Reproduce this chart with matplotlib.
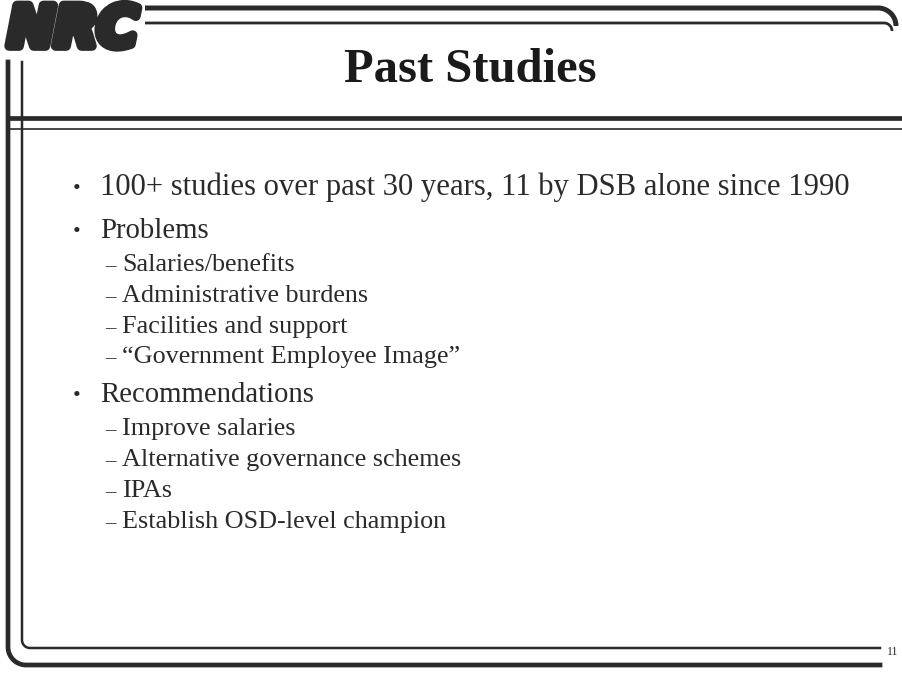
import numpy as np
import matplotlib
matplotlib.use("Agg")
import matplotlib.pyplot as plt
import matplotlib.patheffects as pe

# ---- content ----
title = "Past Studies"
level1_items = [
    "100+ studies over past 30 years, 11 by DSB alone since 1990",
    "Problems",
    "Recommendations",
]
level1_sizes = [22.1, 20.7, 20.7]
problems = [
    "Salaries/benefits",
    "Administrative burdens",
    "Facilities and support",
    "\u201cGovernment Employee Image\u201d",
]
recommendations = [
    "Improve salaries",
    "Alternative governance schemes",
    "IPAs",
    "Establish OSD-level champion",
]
page_number = "11"
logo_text = "NRC"

W, H = 902, 673
fig = plt.figure(figsize=(W / 100, H / 100), dpi=100)
ax = fig.add_axes([0, 0, 1, 1])
ax.set_xlim(0, W)
ax.set_ylim(H, 0)
ax.axis("off")

ink = "#2a2a2a"
serif = ["Liberation Serif", "DejaVu Serif"]


def arc(cx, cy, r, a0, a1, n=30):
    t = np.radians(np.linspace(a0, a1, n))
    return cx + r * np.cos(t), cy + r * np.sin(t)


# ---- frame ----
x, y = arc(878, 26, 18, -90, 0)
ax.plot(np.r_[145, x], np.r_[8, y], color=ink, lw=3.6, solid_capstyle="butt")
x, y = arc(884, 31, 8, -90, 0)
ax.plot(np.r_[145, x], np.r_[23, y], color=ink, lw=2.0, solid_capstyle="butt")
ax.plot([8, 902], [118, 118], color=ink, lw=3.4)
ax.plot([8, 902], [129, 129], color=ink, lw=1.2)
x, y = arc(26, 647, 18, 180, 90)
ax.plot(np.r_[8, x, 880], np.r_[62, y, 665], color=ink, lw=3.4)
x, y = arc(30, 640, 8, 180, 90)
ax.plot(np.r_[22, x, 880], np.r_[62, y, 648], color=ink, lw=1.8)

# ---- logo ----
ax.text(73, 31, logo_text, fontsize=40, fontweight="black", style="italic",
        family=["DejaVu Sans"], color=ink, ha="center", va="center",
        path_effects=[pe.Stroke(linewidth=7, foreground=ink), pe.Normal()])

# ---- title ----
ax.text(470, 70, title, fontsize=35, fontweight="bold", family=serif,
        color="#1a1a1a", ha="center", va="center")

# ---- body ----
l1_y = [195, 238, 402]
for txt, yb, fs in zip(level1_items, l1_y, level1_sizes):
    ax.text(73, yb - 1, "\u2022", fontsize=16, family=serif, color=ink,
            ha="left", va="baseline")
    ax.text(100, yb, txt, fontsize=fs, family=serif, color=ink,
            ha="left", va="baseline")

sub_groups = [(problems, [271, 302, 333, 363]),
              (recommendations, [435, 466, 497, 528])]
for items, ys in sub_groups:
    for txt, yb in zip(items, ys):
        ax.text(105, yb, "\u2013", fontsize=15, family=serif, color=ink,
                ha="left", va="baseline")
        ax.text(122, yb, txt, fontsize=18.8, family=serif, color=ink,
                ha="left", va="baseline")

ax.text(893, 652, page_number, fontsize=8.5, family=serif, color=ink,
        ha="center", va="center")

fig.savefig("out.png", dpi=100, facecolor="white")
